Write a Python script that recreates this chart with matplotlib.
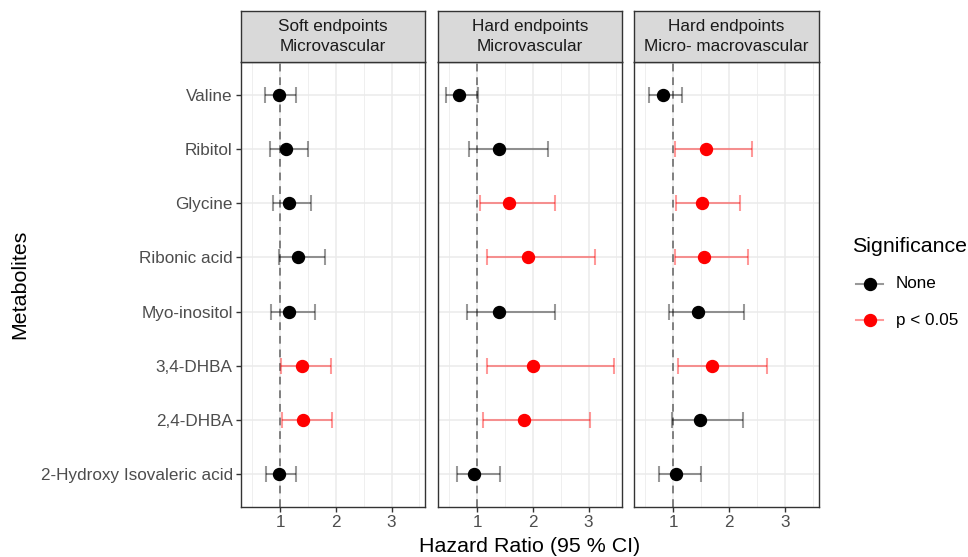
import numpy as np
import matplotlib
matplotlib.use('Agg')
import matplotlib.pyplot as plt
from matplotlib.lines import Line2D

plt.rcParams['font.family'] = ['Liberation Sans', 'DejaVu Sans']

# metabolites, top to bottom
metabolites = ['Valine', 'Ribitol', 'Glycine', 'Ribonic acid', 'Myo-inositol',
               '3,4-DHBA', '2,4-DHBA', '2-Hydroxy Isovaleric acid']

panels = ['Soft endpoints\nMicrovascular', 'Hard endpoints\nMicrovascular',
          'Hard endpoints\nMicro- macrovascular']

# hazard ratio, lower and upper 95% CI, significance flag (1 = p < 0.05)
hr_soft = [0.98, 1.11, 1.165, 1.32, 1.165, 1.39, 1.41, 0.98]
lo_soft = [0.735, 0.82, 0.88, 0.99, 0.835, 1.01, 1.03, 0.74]
hi_soft = [1.28, 1.51, 1.55, 1.80, 1.63, 1.915, 1.93, 1.29]
sig_soft = [0, 0, 0, 0, 0, 1, 1, 0]

hr_hard_micro = [0.68, 1.39, 1.58, 1.91, 1.40, 2.01, 1.84, 0.95]
lo_hard_micro = [0.45, 0.86, 1.05, 1.18, 0.82, 1.18, 1.11, 0.64]
hi_hard_micro = [1.02, 2.27, 2.40, 3.11, 2.40, 3.45, 3.02, 1.42]
sig_hard_micro = [0, 0, 1, 1, 0, 1, 1, 0]

hr_hard_macro = [0.81, 1.58, 1.52, 1.545, 1.44, 1.69, 1.48, 1.05]
lo_hard_macro = [0.575, 1.035, 1.05, 1.03, 0.92, 1.08, 0.98, 0.75]
hi_hard_macro = [1.15, 2.41, 2.195, 2.33, 2.27, 2.67, 2.25, 1.50]
sig_hard_macro = [0, 1, 1, 1, 0, 1, 0, 0]

data = [(hr_soft, lo_soft, hi_soft, sig_soft),
        (hr_hard_micro, lo_hard_micro, hi_hard_micro, sig_hard_micro),
        (hr_hard_macro, lo_hard_macro, hi_hard_macro, sig_hard_macro)]

sig_colors = {0: 'black', 1: 'red'}
bar_colors = {0: (0, 0, 0, 0.4), 1: (1, 0, 0, 0.4)}
sig_labels = ['None', 'p < 0.05']

base = 15.4
small = 12.3

# shared x range with ggplot-like 5% expansion
all_lo = min(min(d[1]) for d in data)
all_hi = max(max(d[2]) for d in data)
pad = 0.05 * (all_hi - all_lo)
xlim = (all_lo - pad, all_hi + pad)

W, H = 968, 557
fig = plt.figure(figsize=(W / 100, H / 100), dpi=100)

panel_x = [(241, 425), (438, 622), (634, 819)]
panel_top, panel_bot = 62, 507
strip_top = 11

ypos = np.arange(len(metabolites))[::-1]
n = len(metabolites)

for i, (px, (hr, lo, hi, sig)) in enumerate(zip(panel_x, data)):
    ax = fig.add_axes([px[0] / W, 1 - panel_bot / H, (px[1] - px[0]) / W,
                       (panel_bot - panel_top) / H])
    ax.set_xlim(xlim)
    ax.set_ylim(-0.6, n - 1 + 0.6)
    ax.set_xticks([1, 2, 3])
    ax.set_xticks([0.5, 1.5, 2.5, 3.5], minor=True)
    ax.set_yticks(ypos)
    ax.grid(True, which='major', color='#ebebeb', lw=1.1, zorder=0)
    ax.grid(True, which='minor', axis='x', color='#ebebeb', lw=0.55, zorder=0)
    ax.set_axisbelow(True)
    for s in ax.spines.values():
        s.set_color('#333333')
        s.set_linewidth(1.0)
    ax.tick_params(which='major', length=3.5, color='#333333', width=1.0,
                   labelsize=small, labelcolor='#4d4d4d', pad=2.5)
    ax.tick_params(which='minor', length=0)
    if i == 0:
        ax.set_yticklabels(metabolites)
    else:
        ax.set_yticklabels([])
        ax.tick_params(axis='y', length=0)

    ax.axvline(1, color='#7f7f7f', lw=1.4, ls=(0, (4, 3)), zorder=2)

    for k in range(n):
        ax.errorbar(hr[k], ypos[k], xerr=[[hr[k] - lo[k]], [hi[k] - hr[k]]],
                    fmt='none', ecolor=bar_colors[sig[k]], elinewidth=1.5,
                    capsize=5.8, capthick=1.5, zorder=3)
        ax.plot(hr[k], ypos[k], 'o', color=sig_colors[sig[k]], ms=8.6, zorder=4)

    # strip
    sax = fig.add_axes([px[0] / W, 1 - panel_top / H, (px[1] - px[0]) / W,
                        (panel_top - strip_top) / H])
    sax.set_facecolor('#d9d9d9')
    sax.set_xticks([])
    sax.set_yticks([])
    for s in sax.spines.values():
        s.set_color('#333333')
        s.set_linewidth(1.0)
    sax.text(0.5, 0.5, panels[i], ha='center', va='center', fontsize=small,
             color='#1a1a1a', linespacing=1.45, transform=sax.transAxes)

fig.text(530 / W, 1 - 547 / H, 'Hazard Ratio (95 % CI)', ha='center',
         va='center', fontsize=base)
fig.text(20 / W, 1 - 284 / H, 'Metabolites', ha='center', va='center',
         rotation=90, fontsize=base)

# legend, drawn by hand in figure pixels
fig.text(852 / W, 1 - 246 / H, 'Significance', ha='left', va='center',
         fontsize=base)
for k, y in zip((0, 1), (284, 320)):
    fig.add_artist(Line2D([856 / W, 883 / W], [1 - y / H] * 2,
                          color=bar_colors[k], lw=1.5, transform=fig.transFigure))
    fig.add_artist(Line2D([869.5 / W], [1 - y / H], marker='o', ms=8.6,
                          color=sig_colors[k], lw=0, transform=fig.transFigure))
    fig.text(896 / W, 1 - y / H, sig_labels[k], ha='left', va='center',
             fontsize=small)

fig.savefig('out.png', dpi=100)
